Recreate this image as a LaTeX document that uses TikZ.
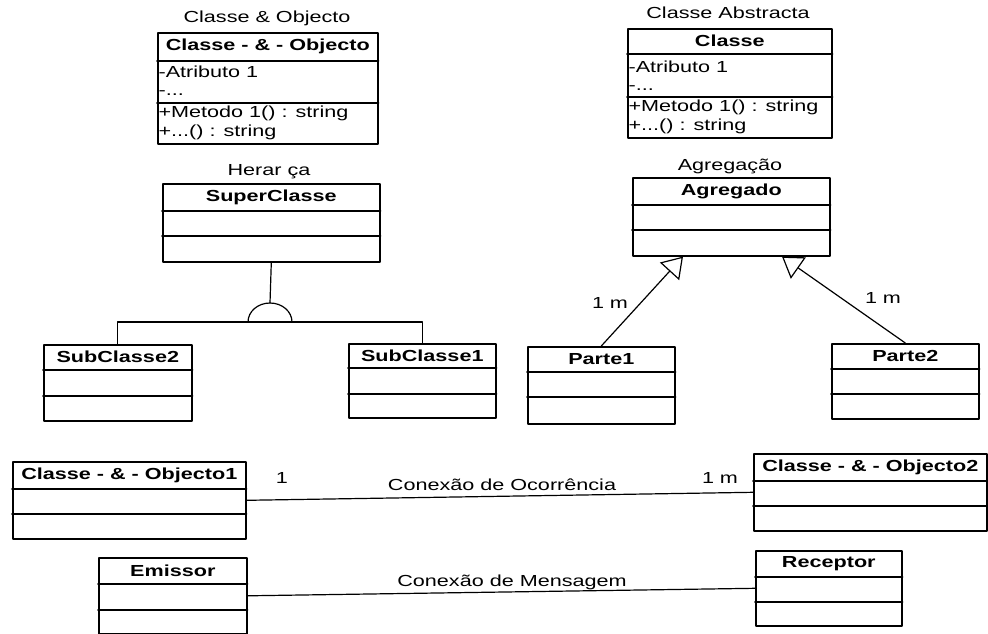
\documentclass[tikz,border=0pt]{standalone}
\usepackage{fontspec}
\setmainfont{Liberation Sans}[FakeStretch=1.35]
\usetikzlibrary{calc}
\usetikzlibrary{arrows.meta}
\tikzstyle{every path}=[line width=1.2pt, line cap=round, line join=round]
\tikzstyle{every node}=[font=\fontsize{16}{18}\selectfont]
\tikzstyle{caixa}=[draw, line width=1.6pt, anchor=north west, inner sep=0pt]
\tikzstyle{divisao}=[line width=1.6pt]
\tikzstyle{cabec}=[font=\fontsize{16}{18}\selectfont\bfseries, inner sep=0pt]
\tikzstyle{membro}=[anchor=west, inner sep=0pt]
\tikzstyle{agrega}=[-{Triangle[open, length=20pt, width=26pt]}]
% caixa de classe: nome, x, y, largura, altura, cabecalho, divisao, texto
\newcommand{\caixa}[8]{%
  \node[caixa, minimum width=#4pt, minimum height=#5pt] (#1) at (#2,#3) {};
  \draw[divisao] ([yshift=-#6pt]#1.north west) -- ([yshift=-#6pt]#1.north east);
  \draw[divisao] ([yshift=-#7pt]#1.north west) -- ([yshift=-#7pt]#1.north east);
  \node[cabec] (#1-nome) at ([yshift=-#6pt/2]#1.north) {#8};
}

\begin{document}
\begin{tikzpicture}[x=1pt, y=-1pt]
          \useasboundingbox (0,0) rectangle (988,634);
          %classe e objecto
          \node (tit1) at (267,18) {Classe \& Objecto};
          \caixa{c1}{157}{32}{220}{111}{29}{71}{Classe - \& - Objecto}
          \node[membro] (c1a1) at (158,72) {-Atributo 1};
          \node[membro] (c1a2) at (158,93) {-...};
          \node[membro] (c1m1) at (158,113) {+Metodo 1() : string};
          \node[membro] (c1m2) at (158,132) {+...() : string};
          %classe abstracta
          \node (tit2) at (728,13) {Classe Abstracta};
          \caixa{abs}{627}{28}{204}{109}{26}{69}{Classe}
          \node[membro] (absa1) at (628,67) {-Atributo 1};
          \node[membro] (absa2) at (628,88) {-...};
          \node[membro] (absm1) at (628,107) {+Metodo 1() : string};
          \node[membro] (absm2) at (628,126) {+...() : string};
          %heranca
          \node (tit3) at (269,172) {Herar ça};
          \caixa{sup}{162}{183}{217}{78}{28}{53}{SuperClasse}
          \caixa{sub2}{43}{344}{148}{76}{26}{52}{SubClasse2}
          \caixa{sub1}{348}{343}{147}{74}{25}{51}{SubClasse1}
          \coordinate (heranca) at (270,322);
          \draw ([xshift=-22pt]heranca) arc[start angle=180, end angle=0, x radius=22pt, y radius=19pt];
          \draw (sup.south) -- ([yshift=19pt]heranca);
          \draw (sub2.north) -- (sub2.north |- heranca) -- (sub1.north |- heranca) -- (sub1.north);
          %agregacao
          \node (tit4) at (730,166) {Agregação};
          \caixa{agr}{632}{177}{197}{78}{28}{53}{Agregado}
          \caixa{p1}{527}{346}{147}{77}{26}{51}{Parte1}
          \caixa{p2}{831}{343}{147}{75}{26}{51}{Parte2}
          \draw[agrega] (p1.north) -- ([xshift=51pt]agr.south west);
          \draw[agrega] (p2.north) -- ([xshift=150pt]agr.south west);
          \node (m1) at (610,303) {1 m};
          \node (m2) at (883,298) {1 m};
          %conexao de ocorrencia
          \caixa{ob1}{12}{461}{233}{77}{28}{53}{Classe - \& - Objecto1}
          \caixa{ob2}{753}{453}{233}{77}{28}{53}{Classe - \& - Objecto2}
          \draw (ob1.east) -- (ob2.west);
          \node (um) at (282,478) {1};
          \node (um2) at (720,478) {1 m};
          \node (oco) at (502,485) {Conexão de Ocorrência};
          %conexao de mensagem
          \caixa{emi}{98}{557}{148}{76}{27}{53}{Emissor}
          \caixa{rec}{755}{550}{146}{75}{27}{52}{Receptor}
          \draw (emi.east) -- (rec.west);
          \node (msg) at (512,582) {Conexão de Mensagem};
        \end{tikzpicture}
\end{document}
